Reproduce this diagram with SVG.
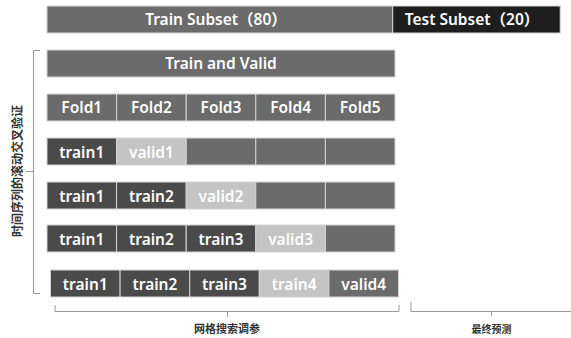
<svg xmlns="http://www.w3.org/2000/svg" width="571" height="338" viewBox="0 0 571 338">
<style>
.c{stroke:#d4d4d4;stroke-width:1}
.mid{fill:#6b6b6b}
.dk{fill:#4a4a4a}
.lt{fill:#c4c4c4}
.blk{fill:#1e1e1e}
.t{font-family:"Noto Sans","Noto Sans CJK SC",sans-serif;font-size:15.5px;font-weight:600;fill:#ffffff;text-anchor:middle}
.lab{font-family:"Noto Sans CJK SC",sans-serif;font-weight:bold;font-size:11px;fill:#333333;text-anchor:middle}
.br{fill:none;stroke:#9a9a9a;stroke-width:1}
</style>
<rect width="571" height="338" fill="#ffffff"/>
<g id="train-subset"><rect class="c mid" x="47" y="6" width="345.7" height="27"/><text class="t" x="216" y="25">Train Subset（80）</text></g>
<g id="test-subset"><rect class="c blk" x="392.7" y="6" width="167.5" height="27"/><text class="t" x="472" y="25">Test Subset（20）</text></g>
<g id="train-valid"><rect class="c mid" x="47" y="50" width="348" height="27"/><text class="t" x="221" y="69">Train and Valid</text></g>
<g id="folds">
<rect class="c mid" x="47" y="94" width="69.6" height="27"/><text class="t" x="81.8" y="113">Fold1</text>
<rect class="c mid" x="116.6" y="94" width="69.6" height="27"/><text class="t" x="151.4" y="113">Fold2</text>
<rect class="c mid" x="186.2" y="94" width="69.6" height="27"/><text class="t" x="221" y="113">Fold3</text>
<rect class="c mid" x="255.8" y="94" width="69.6" height="27"/><text class="t" x="290.6" y="113">Fold4</text>
<rect class="c mid" x="325.4" y="94" width="69.6" height="27"/><text class="t" x="360.2" y="113">Fold5</text>
</g>
<g id="split1">
<rect class="c dk" x="47" y="138" width="69.6" height="27"/><text class="t" x="81.8" y="158">train1</text>
<rect class="c lt" x="116.6" y="138" width="69.6" height="27"/><text class="t" x="151.4" y="158">valid1</text>
<rect class="c mid" x="186.2" y="138" width="69.6" height="27"/>
<rect class="c mid" x="255.8" y="138" width="69.6" height="27"/>
<rect class="c mid" x="325.4" y="138" width="69.6" height="27"/>
</g>
<g id="split2">
<rect class="c dk" x="47" y="182" width="69.6" height="27"/><text class="t" x="81.8" y="202">train1</text>
<rect class="c dk" x="116.6" y="182" width="69.6" height="27"/><text class="t" x="151.4" y="202">train2</text>
<rect class="c lt" x="186.2" y="182" width="69.6" height="27"/><text class="t" x="221" y="202">valid2</text>
<rect class="c mid" x="255.8" y="182" width="69.6" height="27"/>
<rect class="c mid" x="325.4" y="182" width="69.6" height="27"/>
</g>
<g id="split3">
<rect class="c dk" x="47" y="225" width="69.6" height="27"/><text class="t" x="81.8" y="245">train1</text>
<rect class="c dk" x="116.6" y="225" width="69.6" height="27"/><text class="t" x="151.4" y="245">train2</text>
<rect class="c dk" x="186.2" y="225" width="69.6" height="27"/><text class="t" x="221" y="245">train3</text>
<rect class="c lt" x="255.8" y="225" width="69.6" height="27"/><text class="t" x="290.6" y="245">valid3</text>
<rect class="c mid" x="325.4" y="225" width="69.6" height="27"/>
</g>
<g id="split4">
<rect class="c dk" x="50.5" y="270" width="69.6" height="27"/><text class="t" x="85.3" y="290">train1</text>
<rect class="c dk" x="120.1" y="270" width="69.6" height="27"/><text class="t" x="154.9" y="290">train2</text>
<rect class="c dk" x="189.7" y="270" width="69.6" height="27"/><text class="t" x="224.5" y="290">train3</text>
<rect class="c lt" x="259.3" y="270" width="69.6" height="27"/><text class="t" x="294.1" y="290">train4</text>
<rect class="c mid" x="328.9" y="270" width="69.6" height="27"/><text class="t" x="363.7" y="290">valid4</text>
</g>
<g id="connectors">
<path class="br" d="M40,50.5 H33.5 V293.5 H40 M33.5,171.5 H26"/>
<path class="br" d="M55,305 V311.5 H399 V305 M227.5,311.5 V317"/>
<path class="br" d="M411,302 V311.5 H571 M491.5,311.5 V316"/>
</g>
<g id="labels">
<text class="lab" transform="translate(22,171) rotate(-90)" style="font-size:12px">时间序列的滚动交叉验证</text>
<text class="lab" x="227" y="333">网格搜索调参</text>
<text class="lab" x="491.5" y="333" style="font-size:10px">最终预测</text>
</g>
</svg>
